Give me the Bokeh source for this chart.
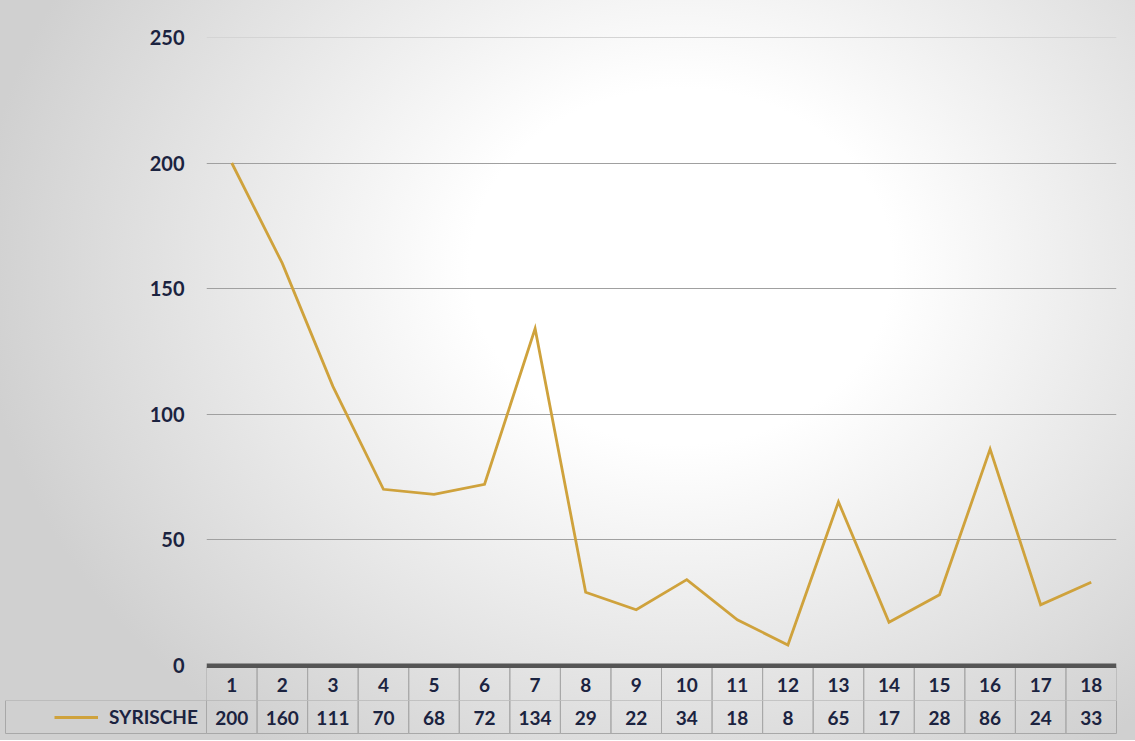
from bokeh.plotting import figure
from bokeh.layouts import column
from bokeh.models import (Range1d, FixedTicker, Grid, ColumnDataSource, Legend, LegendItem)
from bokeh.core.properties import value
from bokeh.embed import file_html
from bokeh.resources import INLINE

categories = list(range(1, 19))
series_name = "SYRISCHE"
values = [200, 160, 111, 70, 68, 72, 134, 29, 22, 34, 18, 8, 65, 17, 28, 86, 24, 33]
y_ticks = [0, 50, 100, 150, 200, 250]

FONT = "Lato"
TXT = "#1b2340"
GOLD = "#cfa23c"
CELL = "#a8a8a8"
W = 1135
F_LEFT, F_RIGHT = 206, 1116          # chart frame edges (px)
PXC = (F_RIGHT - F_LEFT) / 18.0      # pixels per category
F_TOP, SPLIT = 25, 700               # chart frame top, bottom (px)
Y0 = 664.5                           # pixel of value 0
PXU = 2.51                           # pixels per y unit
H2 = 40                              # height of the lower table strip


def u(py):
    return (Y0 - py) / PXU


def cx(px):
    return 0.5 + (px - F_LEFT) / PXC


# ---------------- chart (with first table row) ----------------
p = figure(width=W, height=SPLIT, output_backend="svg", toolbar_location=None,
           x_range=Range1d(0.5, 18.5), y_range=Range1d(u(SPLIT), u(F_TOP)),
           min_border_left=F_LEFT, min_border_right=W - F_RIGHT,
           min_border_top=F_TOP, min_border_bottom=0, frame_align=False)
p.border_fill_color = None
p.background_fill_color = None
p.outline_line_color = None
p.xaxis.visible = False
p.xgrid.visible = False

yax = p.yaxis[0]
yax.ticker = FixedTicker(ticks=y_ticks)
yax.axis_line_color = None
yax.major_tick_line_color = None
yax.minor_tick_line_color = None
yax.major_label_standoff = 16
yax.major_label_text_font = FONT
yax.major_label_text_font_style = "bold"
yax.major_label_text_font_size = "20px"
yax.major_label_text_color = TXT

p.ygrid.ticker = FixedTicker(ticks=[50, 100, 150, 200])
p.ygrid.grid_line_color = "#a0a0a0"
p.ygrid.grid_line_width = 1
p.add_layout(Grid(dimension=1, ticker=FixedTicker(ticks=[250]),
                  grid_line_color="#d4d4d4", grid_line_width=1))

p.line(categories, values, line_color=GOLD, line_width=2.8, line_join="miter")

src = ColumnDataSource(dict(
    x=categories, left=[c - 0.5 for c in categories], right=[c + 0.5 for c in categories],
    lab=[str(c) for c in categories], val=[str(v) for v in values]))

p.quad(left="left", right="right", top=u(667), bottom=u(SPLIT), source=src, fill_color=None,
       line_color=CELL, line_width=1)
p.quad(left=[0.5], right=[18.5], top=[u(663)], bottom=[u(667.5)], fill_color="#555555",
       line_color=None)
p.text(x="x", y=u(684), text="lab", source=src, text_align="center", text_baseline="middle",
       text_font=value(FONT), text_font_style="bold", text_font_size="19px", text_color=TXT)

# ---------------- second table row with the legend key ----------------
t = figure(width=W, height=H2, output_backend="svg", toolbar_location=None,
           x_range=Range1d(cx(0), cx(W)), y_range=Range1d(H2, 0),
           min_border=0, min_border_left=0, min_border_right=0,
           min_border_top=0, min_border_bottom=0, frame_align=False)
t.border_fill_color = None
t.background_fill_color = None
t.outline_line_color = None
t.axis.visible = False
t.grid.visible = False

t.quad(left="left", right="right", top=0, bottom=33, source=src, fill_color=None,
       line_color=CELL, line_width=1)
t.quad(left=[cx(5)], right=[0.5], top=[0], bottom=[33], fill_color=None,
       line_color=CELL, line_width=1)
t.text(x="x", y=17, text="val", source=src, text_align="center", text_baseline="middle",
       text_font=value(FONT), text_font_style="bold", text_font_size="19px", text_color=TXT)

# key renderer for the legend, its points lie outside the visible range
key = t.line([-100, -99], [-100, -100], line_color=GOLD, line_width=2.8)
legend = Legend(items=[LegendItem(label=series_name, renderers=[key])],
                location=(54, H2 - 28), padding=0, margin=0, spacing=0,
                glyph_width=44, glyph_height=22, label_height=22, label_standoff=11,
                border_line_color=None, background_fill_alpha=0,
                label_text_font=FONT, label_text_font_style="bold",
                label_text_font_size="19px", label_text_color=TXT)
t.add_layout(legend)

layout = column(p, t, spacing=0,
                styles={"background": "radial-gradient(ellipse 62% 80% at 60% 36%, #ffffff 0%, #ffffff 30%, #d0d0d0 100%)"})

open("out.html", "w").write(file_html(layout, INLINE))
